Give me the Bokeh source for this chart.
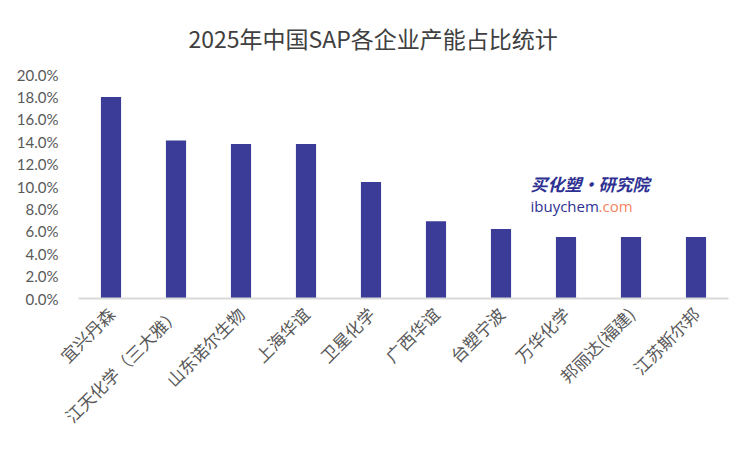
from bokeh.plotting import figure
from bokeh.models import ColumnDataSource, FactorRange, Range1d, FixedTicker, NumeralTickFormatter, Label
from bokeh.embed import file_html
from bokeh.resources import INLINE
import math

title_text = "2025年中国SAP各企业产能占比统计"
companies = ["宜兴丹森", "江天化学（三大雅）", "山东诺尔生物", "上海华谊", "卫星化学",
             "广西华谊", "台塑宁波", "万华化学", "邦丽达(福建)", "江苏斯尔邦"]
shares = [0.180, 0.141, 0.138, 0.138, 0.104, 0.069, 0.062, 0.055, 0.055, 0.055]
y_ticks = [0.0, 0.02, 0.04, 0.06, 0.08, 0.10, 0.12, 0.14, 0.16, 0.18, 0.20]

src = ColumnDataSource(dict(company=companies, share=shares))

p = figure(width=750, height=450, x_range=FactorRange(factors=companies, range_padding=0),
           y_range=Range1d(0, 0.20), output_backend="svg", toolbar_location=None,
           min_border_left=78, min_border_right=22, min_border_top=74, min_border_bottom=152)
p.outline_line_color = None
p.background_fill_color = "white"
p.border_fill_color = "white"

p.vbar(x="company", top="share", width=0.31, source=src, color="#3B3B98", line_color=None)

p.xgrid.grid_line_color = None
p.ygrid.grid_line_color = None

p.yaxis.ticker = FixedTicker(ticks=y_ticks)
p.yaxis.formatter = NumeralTickFormatter(format="0.0%")
p.yaxis.axis_line_color = None
p.yaxis.major_tick_line_color = None
p.yaxis.minor_tick_line_color = None
p.yaxis.major_label_text_font = "Lato"
p.yaxis.major_label_text_font_size = "15px"
p.yaxis.major_label_text_color = "#595959"
p.yaxis.major_label_standoff = 14

p.xaxis.axis_line_color = "#D9D9D9"
p.xaxis.axis_line_width = 2
p.xaxis.major_tick_line_color = None
p.xaxis.minor_tick_line_color = None
p.xaxis.major_label_orientation = math.pi / 4
p.xaxis.major_label_text_font = "Noto Sans CJK SC"
p.xaxis.major_label_text_font_size = "17px"
p.xaxis.major_label_text_color = "#595959"
p.xaxis.major_label_standoff = 6

# Title: left-aligned with an offset so it is centred over the whole canvas
p.title.text = title_text
p.title.align = "left"
p.title.offset = 110
p.title.vertical_align = "middle"
p.title.standoff = 37
p.title.text_font = "Noto Sans CJK SC"
p.title.text_font_size = "23px"
p.title.text_font_style = "normal"
p.title.text_color = "#404040"

# Watermark
p.add_layout(Label(x=530 - 78, y=298 - 183, x_units="screen", y_units="screen", text="买化塑·研究院",
                   text_align="left", text_baseline="middle", text_font="Noto Sans CJK SC",
                   text_font_size="17px", text_font_style="bold italic", text_color="#2E3192"))
p.add_layout(Label(x=530 - 78, y=298 - 205, x_units="screen", y_units="screen", text="ibuychem",
                   text_align="left", text_baseline="middle", text_font="Open Sans",
                   text_font_size="15px", text_color="#2E3192"))
p.add_layout(Label(x=598 - 78, y=298 - 205, x_units="screen", y_units="screen", text=".com",
                   text_align="left", text_baseline="middle", text_font="Open Sans",
                   text_font_size="15px", text_color="#F4845F"))

open("out.html", "w").write(file_html(p, INLINE))
